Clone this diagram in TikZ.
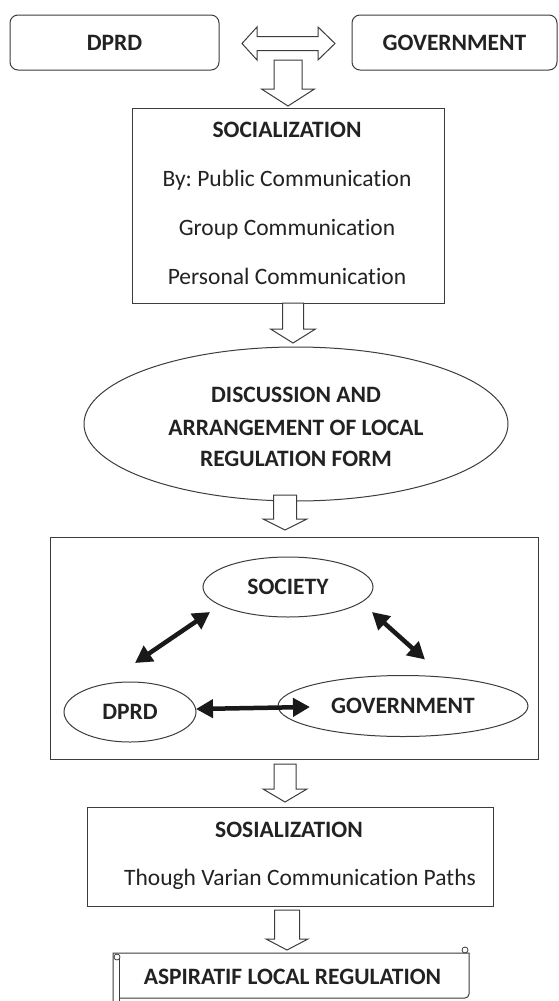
\documentclass[tikz,border=0pt]{standalone}
\usepackage{fontspec}
\setmainfont[Ligatures=NoCommon]{Carlito}
\frenchspacing
\usetikzlibrary{shapes.geometric,arrows.meta,calc}
\definecolor{ln}{HTML}{3C3C3C}
\definecolor{tx}{HTML}{222222}
% hollow block arrow pointing down: start, tip, shaft half width, head half width, head length
\newcommand\vblock[5]{%
  \draw[blk] let \p1=(#1), \p2=(#2) in
    (\x1-#3,\y1) -- (\x1+#3,\y1) -- (\x1+#3,\y2+#5) -- (\x1+#4,\y2+#5) -- (\x1,\y2)
    -- (\x1-#4,\y2+#5) -- (\x1-#3,\y2+#5) -- cycle;}
% hollow double block arrow: left tip, right tip, shaft half, head half, left head len, right head len
\newcommand\hdbl[6]{%
  \draw[blk] let \p1=(#1), \p2=(#2) in
    (\x1,\y1) -- (\x1+#5,\y1+#4) -- (\x1+#5,\y1+#3) -- (\x2-#6,\y1+#3) -- (\x2-#6,\y1+#4)
    -- (\x2,\y1) -- (\x2-#6,\y1-#4) -- (\x2-#6,\y1-#3) -- (\x1+#5,\y1-#3) -- (\x1+#5,\y1-#4) -- cycle;}
\begin{document}
\begin{tikzpicture}[x=1pt,y=-1pt,
  every node/.style={text=tx, inner sep=0pt, outer sep=0pt},
  rbox/.style={draw=ln, line width=1pt, rounded corners=8pt},
  sbox/.style={draw=ln, line width=1pt},
  ell/.style={draw=ln, line width=1pt, ellipse},
  bt/.style={font=\fontsize{23.5}{28}\selectfont\bfseries},
  rt/.style={font=\fontsize{23.5}{28}\selectfont},
  blk/.style={draw=ln, line width=1pt, fill=white},
  dbl/.style={line width=4.5pt, draw=black!90, {Triangle[length=17pt,width=18pt]}-{Triangle[length=17pt,width=18pt]}}
]
\useasboundingbox (0,0) rectangle (558,1001);

% top row
\node[rbox, bt, minimum width=209, minimum height=55] (dprdT) at (114.5,42.5) {DPRD};
\node[rbox, bt, minimum width=205, minimum height=55] (govT) at (454.5,42.5) {GOVERNMENT};
\coordinate (hl) at (242,43.5);
\coordinate (hr) at (335,43.5);
\hdbl{hl}{hr}{7pt}{16.5pt}{15pt}{17pt}

% socialization box
\node[sbox, minimum width=312, minimum height=195] (socbox) at (288,205.5) {};
\coordinate (a1s) at (288,60);
\coordinate (a1t) at (288,106);
\vblock{a1s}{a1t}{14pt}{26.5pt}{17pt}
\node[bt, anchor=base] (s1) at (287,137.5) {SOCIALIZATION};
\node[rt, anchor=base] (s2) at (287,186.5) {By: Public Communication};
\node[rt, anchor=base] (s3) at (287,235.5) {Group Communication};
\node[rt, anchor=base] (s4) at (287,284.5) {Personal Communication};

% discussion ellipse
\node[ell, minimum width=424, minimum height=154] (disc) at (296,424) {};
\coordinate (a2s) at (293,303);
\coordinate (a2t) at (293,343);
\vblock{a2s}{a2t}{10.5pt}{22.5pt}{14pt}
\node[bt, anchor=base] (d1) at (296,402.5) {DISCUSSION AND};
\node[bt, anchor=base] (d2) at (296,435.5) {ARRANGEMENT OF LOCAL};
\node[bt, anchor=base] (d3) at (296,466.5) {REGULATION FORM};

% frame with triangle
\node[sbox, minimum width=488, minimum height=222] (frame) at (294,648) {};
\coordinate (a3s) at (285,495);
\coordinate (a3t) at (285,530);
\vblock{a3s}{a3t}{11.5pt}{22pt}{11pt}
\node[ell, bt, minimum width=170, minimum height=60] (society) at (288,587) {SOCIETY};
\node[ell, bt, minimum width=132, minimum height=60] (dprdE) at (130,712) {DPRD};
\node[ell, bt, minimum width=250, minimum height=61] (govE) at (403,706) {GOVERNMENT};
\draw[dbl] ([shift={(5,-19)}]dprdE.north) -- ([shift={(-78,25)}]society.center);
\draw[dbl] ([shift={(84,25)}]society.center) -- ([shift={(22,-16)}]govE.north);
\draw[dbl] ([yshift=3pt]dprdE.east) -- ([xshift=32pt,yshift=-1pt]govE.west);

% sosialization box
\coordinate (a4s) at (285,764);
\coordinate (a4t) at (285,802);
\vblock{a4s}{a4t}{11pt}{22pt}{13pt}
\node[sbox, minimum width=406, minimum height=99] (sosbox) at (290,856.5) {};
\node[bt, anchor=base] (o1) at (289,837.5) {SOSIALIZATION};
\node[rt, anchor=base] (o2) at (300,885.5) {Though Varian Communication Paths};

% scroll
\coordinate (a5s) at (287,910);
\coordinate (a5t) at (287,950);
\vblock{a5s}{a5t}{12.5pt}{21pt}{11pt}
\draw[ln, line width=1pt] (113,1006) -- (113,953) -- (469,953) [rounded corners=4pt] -- (469,998) -- (119,998);
\draw[ln, line width=1pt] (119,958) -- (119,1006);
\draw[ln, line width=0.8pt] (117,957) circle[radius=3pt];
\draw[ln, line width=0.8pt] (465,950) circle[radius=3pt];
\node[bt] (asp) at (292.5,977) {ASPIRATIF LOCAL REGULATION};
\end{tikzpicture}
\end{document}
